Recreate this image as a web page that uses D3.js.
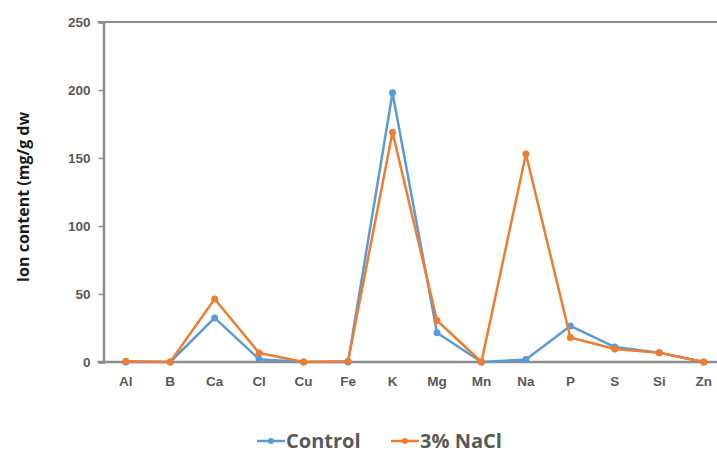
<!DOCTYPE html>
<html>
<head>
<meta charset="utf-8">
<script src="https://cdn.jsdelivr.net/npm/d3@7"></script>
<style>
  html, body { margin: 0; padding: 0; background: #fff; }
  svg { display: block; font-family: "Open Sans", "Noto Sans", sans-serif; }
</style>
</head>
<body>
<svg id="chart" width="717" height="455"></svg>
<script>
const categories = ["Al","B","Ca","Cl","Cu","Fe","K","Mg","Mn","Na","P","S","Si","Zn"];
const controlValues = [0, 0, 32.4, 2, 0, 0, 198, 21.5, 0, 1.8, 26.5, 11, 6.8, 0];
const naclValues = [0.5, 0, 46.3, 6.6, 0, 0.5, 169, 30.5, 0, 153, 18, 9.5, 6.8, 0];
const yTicks = [0, 50, 100, 150, 200, 250];
const seriesNames = ["Control", "3% NaCl"];
const seriesColors = ["#5B9BD5", "#ED7D31"];

const svg = d3.select("#chart");
const mLeft = 103.5, mRight = 726, mTop = 22, mBottom = 362;

const x = d3.scaleBand().domain(categories).range([mLeft, mRight]);
const y = d3.scaleLinear().domain([0, 250]).range([mBottom, mTop]);

// top border line
svg.append("line")
  .attr("x1", mLeft - 6).attr("x2", 717)
  .attr("y1", y(250)).attr("y2", y(250))
  .attr("stroke", "#8c8c8c").attr("stroke-width", 2);

// y axis
const yAxis = svg.append("g")
  .attr("transform", `translate(${mLeft},0)`)
  .call(d3.axisLeft(y).tickValues(yTicks).tickSize(5).tickPadding(8));
yAxis.select(".domain").attr("stroke", "#8c8c8c").attr("stroke-width", 2.5);
yAxis.selectAll(".tick line").attr("stroke", "#8c8c8c").attr("stroke-width", 1.5);
yAxis.selectAll(".tick text")
  .attr("fill", "#595959").attr("font-size", 13.5).attr("font-weight", "bold");

// x axis
const xAxis = svg.append("g")
  .attr("transform", `translate(0,${mBottom})`)
  .call(d3.axisBottom(x).tickSize(0).tickPadding(14));
xAxis.select(".domain").remove();
svg.append("line")
  .attr("x1", mLeft - 6).attr("x2", 717)
  .attr("y1", mBottom).attr("y2", mBottom)
  .attr("stroke", "#8c8c8c").attr("stroke-width", 2.5);
xAxis.selectAll(".tick text")
  .attr("fill", "#595959").attr("font-size", 13.5).attr("font-weight", "bold");

// y title
svg.append("text")
  .attr("transform", `translate(29,197) rotate(-90)`)
  .attr("text-anchor", "middle")
  .attr("font-size", 16).attr("font-weight", "bold").attr("fill", "#1a1a1a")
  .text("Ion content (mg/g dw");

const cx = c => x(c) + x.bandwidth() / 2;
const line = d3.line().x(d => cx(d.c)).y(d => y(d.v));

const series = [controlValues, naclValues];
series.forEach((vals, i) => {
  const data = categories.map((c, j) => ({ c, v: vals[j] }));
  svg.append("path").datum(data)
    .attr("d", line).attr("fill", "none")
    .attr("stroke", seriesColors[i]).attr("stroke-width", 2.5)
    .attr("stroke-linejoin", "round");
  svg.append("g").selectAll("circle").data(data).join("circle")
    .attr("cx", d => cx(d.c)).attr("cy", d => y(d.v)).attr("r", 3.5)
    .attr("fill", seriesColors[i]);
});

// legend
const legendItems = [{ x: 257, name: seriesNames[0], color: seriesColors[0] },
                     { x: 391, name: seriesNames[1], color: seriesColors[1] }];
const lg = svg.append("g");
legendItems.forEach(it => {
  lg.append("line").attr("x1", it.x).attr("x2", it.x + 28)
    .attr("y1", 441).attr("y2", 441)
    .attr("stroke", it.color).attr("stroke-width", 2.5);
  lg.append("circle").attr("cx", it.x + 14).attr("cy", 441).attr("r", 3)
    .attr("fill", it.color);
  lg.append("text").attr("x", it.x + 29).attr("y", 448)
    .attr("font-size", 20).attr("font-weight", "bold").attr("fill", "#595959")
    .text(it.name);
});
</script>
</body>
</html>
